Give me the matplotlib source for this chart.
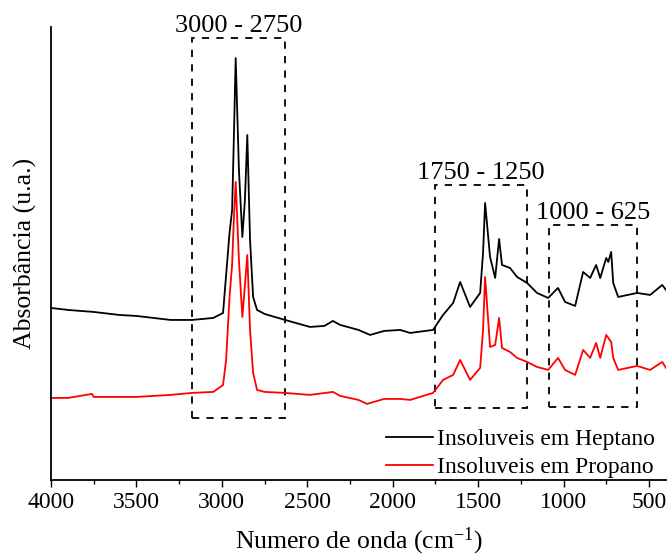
import numpy as np
import matplotlib
matplotlib.use('Agg')
import matplotlib.pyplot as plt
from matplotlib.patches import Rectangle

wn_heptano = [4000, 3900, 3750, 3600, 3500, 3400, 3300, 3175, 3050, 2993, 2975, 2955, 2940, 2930, 2919,
              2900, 2880, 2865, 2851, 2835, 2817, 2794, 2750, 2630, 2484, 2400, 2350, 2307, 2200,
              2132, 2050, 1956, 1898, 1764, 1705, 1646, 1605, 1547, 1488, 1471, 1459, 1430, 1400,
              1377, 1360, 1313, 1272, 1213, 1155, 1090, 1032, 991, 932, 885, 844, 809, 785, 750,
              738, 721, 709, 680, 569, 493, 422, 400]
abs_heptano = [172, 170, 168, 165, 164, 162, 160, 160, 162, 167, 205, 247, 270, 340, 422,
               310, 243, 280, 345, 240, 183, 170, 166, 160, 153, 154, 159, 155, 150,
               145, 149, 150, 147, 150, 165, 177, 198, 173, 187, 227, 277, 223, 202,
               241, 215, 212, 203, 197, 187, 182, 192, 178, 174, 208, 202, 215, 202, 222,
               218, 228, 197, 183, 187, 185, 195, 190]

wn_propano = [4000, 3900, 3760, 3750, 3500, 3300, 3175, 3050, 2993, 2975, 2955, 2940, 2930, 2919, 2900,
              2880, 2865, 2851, 2835, 2817, 2794, 2750, 2630, 2484, 2350, 2307, 2200, 2150, 2050,
              1956, 1898, 1764, 1705, 1646, 1605, 1547, 1488, 1471, 1459, 1430, 1400, 1377, 1360,
              1313, 1272, 1213, 1155, 1090, 1032, 991, 932, 885, 844, 809, 785, 750, 721, 709,
              680, 569, 493, 422, 400]
abs_propano = [82, 82, 86, 83, 83, 85, 87, 88, 95, 120, 183, 215, 260, 298, 220,
               163, 195, 225, 150, 107, 90, 88, 87, 85, 88, 84, 80, 76, 81,
               81, 80, 87, 100, 105, 120, 100, 112, 150, 203, 133, 135, 162, 132,
               128, 122, 118, 113, 110, 122, 110, 105, 130, 122, 137, 122, 145, 138, 122,
               110, 114, 110, 118, 112]

# regioes destacadas: (inicio, fim, y_baixo, y_alto, rotulo)
regioes = [(3175, 2630, 62, 442, '3000 - 2750'),
           (1752, 1213, 72, 295, '1750 - 1250'),
           (1084, 569, 73, 255, '1000 - 625')]

plt.rcParams['font.family'] = ['Liberation Serif', 'DejaVu Serif']
plt.rcParams['mathtext.fontset'] = 'custom'
plt.rcParams['mathtext.rm'] = 'Liberation Serif'
plt.rcParams['mathtext.default'] = 'regular'

fig = plt.figure(figsize=(6.67, 5.58), dpi=100)
ax = fig.add_axes([0.0765, 0.140, 0.922, 0.8115])

ax.plot(wn_heptano, abs_heptano, color='black', lw=1.3, label='Insoluveis em Heptano')
ax.plot(wn_propano, abs_propano, color='red', lw=1.3, label='Insoluveis em Propano')

for x0, x1, y0, y1, rot in regioes:
    ax.add_patch(Rectangle((x0, y0), x1 - x0, y1 - y0, fill=False, ls=(0, (4, 4)),
                           lw=1.3, ec='black'))
    ax.text((x0 + x1) / 2, y1 + 1, rot, ha='center', va='bottom', fontsize=19, clip_on=False)

ax.set_xlim(4000, 400)
ax.set_ylim(0, 453)
ax.set_xticks(np.arange(4000, 499, -500))
ax.set_xticks(np.arange(3750, 400, -500), minor=True)
ax.set_yticks([])
ax.tick_params(axis='x', which='major', length=5, width=1, labelsize=17, direction='out')
ax.tick_params(axis='x', which='minor', length=3, width=1)
for lado in ['top', 'right']:
    ax.spines[lado].set_visible(False)
ax.spines['left'].set_linewidth(1.3)
ax.spines['bottom'].set_linewidth(1.3)

ax.set_xlabel('Numero de onda (cm$^{-1}$)', fontsize=18.5, labelpad=9)
ax.set_ylabel('Absorbância (u.a.)', fontsize=18.5, labelpad=10)

ax.legend(loc='lower right', bbox_to_anchor=(1.0, -0.02), frameon=False, fontsize=17,
          handlelength=2.0, handletextpad=0.2, labelspacing=0.28, borderaxespad=0.05)

plt.savefig('out.png', dpi=100)
